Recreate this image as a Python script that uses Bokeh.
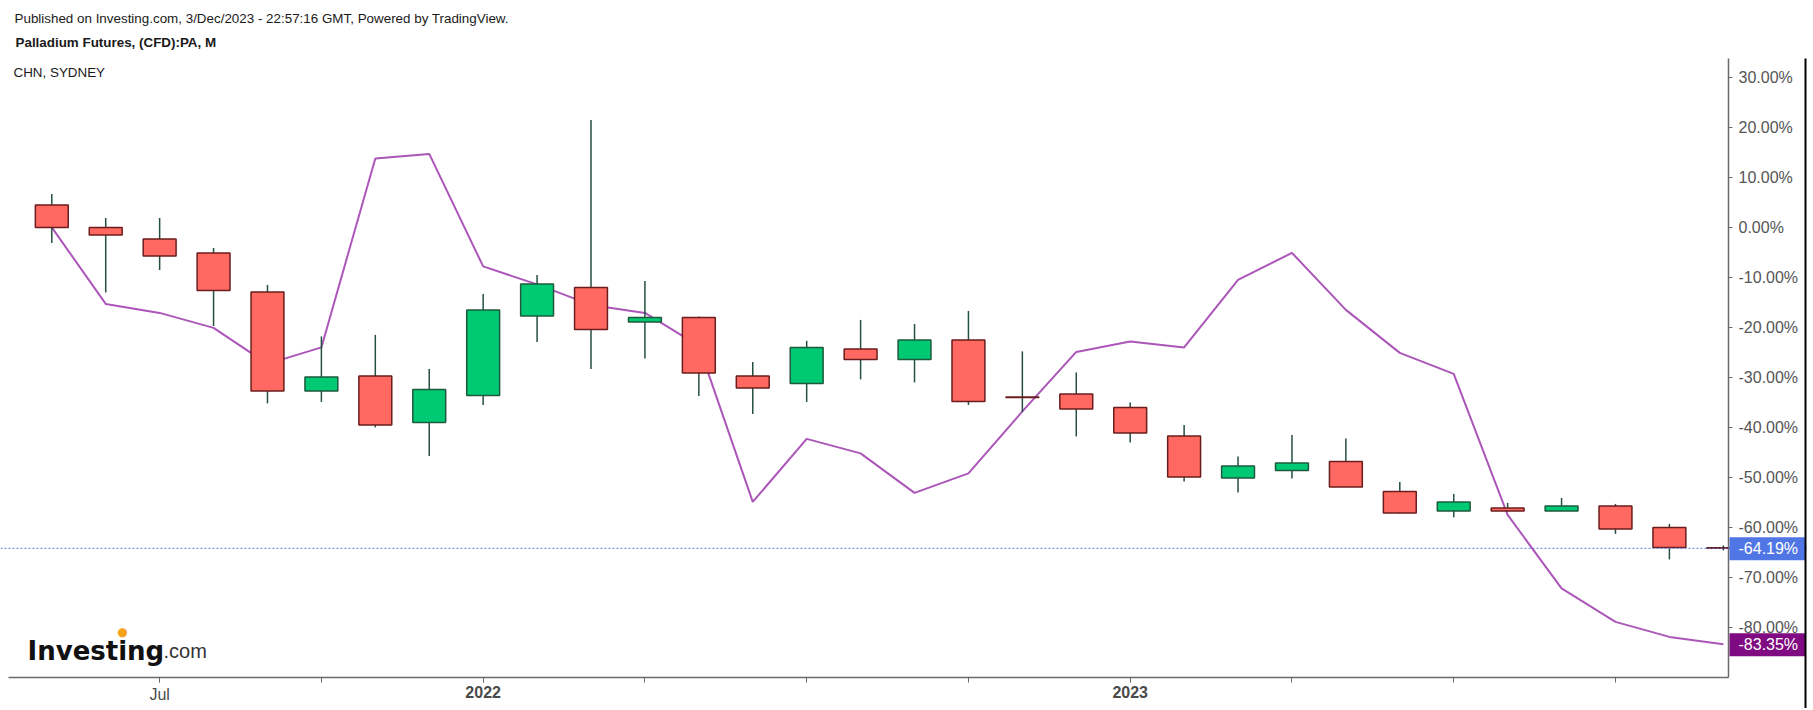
from bokeh.plotting import figure
from bokeh.models import (Range1d, FixedTicker, PrintfTickFormatter, Label, Span,
                          BoxAnnotation, ColumnDataSource, LinearAxis)
from bokeh.embed import file_html
from bokeh.resources import INLINE

# ---------------- data (percent change, monthly) ----------------
months = ["2021-05", "2021-06", "2021-07", "2021-08", "2021-09", "2021-10", "2021-11", "2021-12",
          "2022-01", "2022-02", "2022-03", "2022-04", "2022-05", "2022-06", "2022-07", "2022-08",
          "2022-09", "2022-10", "2022-11", "2022-12", "2023-01", "2023-02", "2023-03", "2023-04",
          "2023-05", "2023-06", "2023-07", "2023-08", "2023-09", "2023-10", "2023-11", "2023-12"]
opens = [4.5, 0.0, -2.3, -5.1, -12.9, -32.7, -29.7, -39.0,
         -33.6, -17.7, -12.0, -18.9, -18.0, -29.7, -31.2, -24.3,
         -26.4, -22.5, -33.9, -33.3, -36.0, -41.7, -50.1, -48.6,
         -46.8, -52.8, -56.7, -56.1, -56.7, -55.7, -60.0, -64.05]
highs = [6.7, 1.9, 1.9, -4.1, -11.5, -21.8, -21.5, -28.3,
         -13.3, -9.5, 21.5, -10.7, -17.8, -26.9, -22.7, -18.5,
         -19.3, -16.7, -24.8, -29.0, -35.0, -39.5, -45.8, -41.5,
         -42.2, -50.9, -53.3, -55.1, -54.1, -55.3, -59.3, -63.6]
lows = [-3.1, -13.0, -8.5, -19.7, -35.2, -34.9, -40.0, -45.7,
        -35.5, -22.9, -28.3, -26.2, -33.7, -37.3, -34.9, -30.4,
        -31.0, -35.5, -36.9, -41.8, -43.0, -50.8, -53.0, -50.2,
        -51.9, -57.2, -58.0, -56.8, -56.7, -61.3, -66.4, -64.6]
closes = [0.0, -1.5, -5.7, -12.6, -32.7, -29.9, -39.5, -32.4,
          -16.5, -11.3, -20.4, -18.0, -29.1, -32.1, -24.0, -26.4,
          -22.5, -34.8, -34.0, -36.3, -41.1, -49.9, -47.7, -47.1,
          -51.9, -57.1, -54.9, -56.7, -55.7, -60.3, -64.0, -64.19]
chn_sydney = [0.0, -15.3, -17.1, -20.1, -27.3, -24.0, 13.8, 14.7,
              -7.8, -11.4, -15.5, -17.1, -23.7, -54.9, -42.3, -45.2,
              -53.1, -49.2, -36.8, -24.9, -22.8, -24.0, -10.5, -5.1,
              -16.5, -25.1, -29.3, -57.5, -72.2, -78.9, -81.9, -83.35]
tick_index = [2, 5, 8, 11, 14, 17, 20, 23, 26, 29]          # quarterly ticks
month_label_index = [2]
month_labels = ["Jul"]
year_label_index = [8, 20]
year_labels = ["2022", "2023"]
y_ticks = [30, 20, 10, 0, -10, -20, -30, -40, -50, -60, -70, -80]
last_price = -64.19
last_chn = -83.35

title1 = "Published on Investing.com, 3/Dec/2023 - 22:57:16 GMT, Powered by TradingView."
title2 = "Palladium Futures, (CFD):PA, M"
compare_name = "CHN, SYDNEY"

# ---------------- styling ----------------
RED_FILL, RED_LINE = "#ff6961", "#6b1d1d"
GRN_FILL, GRN_LINE = "#00c973", "#1f5a3e"
WICK = "#24503f"
PURPLE = "#ab56b8"
AXIS = "#6a6a6a"
TXT = "#555555"
FONT = "Liberation Sans"

W, H = 1808, 708
# page pixel -> data helpers (candle 0 at x=51.3 px, 53.92 px per month; 0% at y=226.9 px, 5 px per 1%)
PX0, PXS = 51.3, 53.92
PY0, PYS = 226.9, 5.0
def dx(px):
    return (px - PX0) / PXS
def dy(py):
    return (PY0 - py) / PYS

FRAME_L, FRAME_R, FRAME_T, FRAME_B = 8, 1728, 58, 677

xs = list(range(len(months)))
src = ColumnDataSource(dict(
    x=xs, high=highs, low=lows,
    top=[max(o, c) for o, c in zip(opens, closes)],
    bottom=[min(o, c) for o, c in zip(opens, closes)],
    fill=[RED_FILL if c < o else GRN_FILL for o, c in zip(opens, closes)],
    line=[RED_LINE if c < o else GRN_LINE for o, c in zip(opens, closes)],
))

p = figure(width=W, height=H,
           x_range=Range1d(dx(0), dx(W)), y_range=Range1d(dy(H), dy(0)),
           y_axis_location="right", toolbar_location=None, output_backend="svg",
           min_border=0)
p.title.visible = False
p.outline_line_color = None
p.xgrid.visible = False
p.ygrid.visible = False
p.background_fill_color = "white"
p.border_fill_color = "white"

# y axis (right), drawn at the chart's right edge
ya = p.yaxis[0]
ya.fixed_location = dx(FRAME_R)
ya.bounds = (dy(FRAME_B), dy(FRAME_T))
ya.ticker = FixedTicker(ticks=y_ticks)
ya.formatter = PrintfTickFormatter(format="%.2f%%")
ya.axis_line_color = AXIS
ya.axis_line_width = 1.5
ya.major_tick_line_color = AXIS
ya.major_tick_in = 0
ya.major_tick_out = 4
ya.minor_tick_line_color = None
ya.major_label_standoff = 6
ya.major_label_text_font = FONT
ya.major_label_text_font_size = "16px"
ya.major_label_text_color = TXT

# x axis: quarterly ticks, "Jul" label (normal weight)
xa = p.xaxis[0]
xa.fixed_location = dy(FRAME_B)
xa.bounds = (dx(FRAME_L), dx(FRAME_R))
xa.ticker = FixedTicker(ticks=month_label_index, minor_ticks=tick_index)
xa.major_label_overrides = {i: t for i, t in zip(month_label_index, month_labels)}
xa.axis_line_color = AXIS
xa.axis_line_width = 1.5
xa.major_tick_line_color = AXIS
xa.major_tick_in = 0
xa.major_tick_out = 5
xa.minor_tick_line_color = AXIS
xa.minor_tick_in = 0
xa.minor_tick_out = 5
xa.major_label_standoff = 3
xa.major_label_text_font = FONT
xa.major_label_text_font_size = "16px"
xa.major_label_text_color = "#4a4a4a"

# second x axis at same place: bold year labels
xb = LinearAxis(fixed_location=dy(FRAME_B), bounds=(dx(FRAME_L), dx(FRAME_R)),
                ticker=FixedTicker(ticks=year_label_index),
                major_label_overrides={i: t for i, t in zip(year_label_index, year_labels)},
                axis_line_color=None, major_tick_line_color=AXIS, major_tick_in=0,
                major_tick_out=5, minor_tick_line_color=None, major_label_standoff=3,
                major_label_text_font=FONT, major_label_text_font_size="16px",
                major_label_text_font_style="bold", major_label_text_color="#4a4a4a")
p.add_layout(xb, "below")

# comparison line (behind candles)
p.line(xs, chn_sydney, line_color=PURPLE, line_width=2)

# candles
p.segment(x0="x", y0="low", x1="x", y1="high", line_color=WICK, line_width=1.5, source=src)
p.vbar(x="x", width=0.61, top="top", bottom="bottom", fill_color="fill",
       line_color="line", line_width=1.5, source=src)

# last price dotted line
p.add_layout(Span(location=last_price, dimension="width", line_color="#5b7be6",
                  line_dash="2 2", line_width=1))

# price tags on the right axis
p.add_layout(BoxAnnotation(left=dx(1729), right=dx(1805), top=last_price + 2.2,
                           bottom=last_price - 2.4, fill_color="#5075e4", fill_alpha=1,
                           line_color=None))
p.add_layout(BoxAnnotation(left=dx(1729), right=dx(1805), top=last_chn + 2.2,
                           bottom=last_chn - 2.4, fill_color="#7f0a81", fill_alpha=1,
                           line_color=None))
p.add_layout(Label(x=dx(1738), y=last_price, text="%.2f%%" % last_price, text_baseline="middle",
                   text_font=FONT, text_font_size="16px", text_color="white"))
p.add_layout(Label(x=dx(1738), y=last_chn, text="%.2f%%" % last_chn, text_baseline="middle",
                   text_font=FONT, text_font_size="16px", text_color="white"))

# black right border line
p.add_layout(BoxAnnotation(left=dx(1804), right=dx(1806), top=dy(FRAME_T), bottom=dy(H + 20),
                           fill_color="black", fill_alpha=1, line_color=None))

# header texts
p.add_layout(Label(x=dx(14), y=dy(18.3), text=title1, text_baseline="middle",
                   text_font=FONT, text_font_size="13.4px", text_color="#1a1a1a"))
p.add_layout(Label(x=dx(15), y=dy(41.7), text=title2, text_baseline="middle",
                   text_font=FONT, text_font_size="13.4px", text_font_style="bold",
                   text_color="#1a1a1a"))
p.add_layout(Label(x=dx(13), y=dy(71.7), text=compare_name, text_baseline="middle",
                   text_font=FONT, text_font_size="13.4px", text_color="#1a1a1a"))

# logo
p.add_layout(Label(x=dx(27), y=dy(650), text="Investing", text_baseline="alphabetic",
                   text_font="DejaVu Sans", text_font_size="26px", text_font_style="bold",
                   text_color="#111111"))
p.add_layout(Label(x=dx(163), y=dy(650), text=".com", text_baseline="alphabetic",
                   text_font=FONT, text_font_size="20px", text_color="#333333"))
p.add_layout(Label(x=dx(122), y=dy(631), text="\u25cf", text_baseline="middle",
                   text_align="center", text_font="DejaVu Sans", text_font_size="12px",
                   text_color="#f5a21c"))

open("out.html", "w").write(file_html(p, INLINE))
